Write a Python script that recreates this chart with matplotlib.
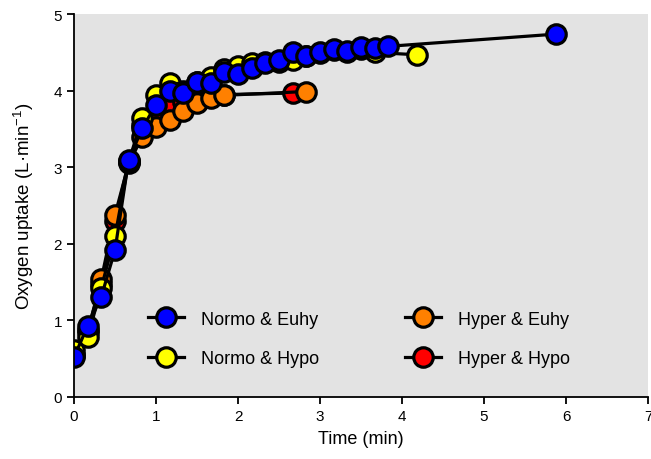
import matplotlib
matplotlib.use("Agg")
import matplotlib.pyplot as plt

plt.rcParams['font.family'] = ['Liberation Sans', 'DejaVu Sans']
plt.rcParams['mathtext.fontset'] = 'custom'
plt.rcParams['mathtext.rm'] = 'Liberation Sans'
plt.rcParams['mathtext.default'] = 'rm'

# Normo & Euhy
t_ne = [0, 0.167, 0.333, 0.5, 0.667, 0.833, 1.0, 1.167, 1.333, 1.5, 1.667, 1.833,
        2.0, 2.167, 2.333, 2.5, 2.667, 2.833, 3.0, 3.167, 3.333, 3.5, 3.667, 3.833, 5.88]
v_ne = [0.52, 0.93, 1.31, 1.92, 3.10, 3.51, 3.82, 4.00, 3.97, 4.12, 4.10, 4.25,
        4.22, 4.30, 4.36, 4.40, 4.50, 4.46, 4.50, 4.55, 4.52, 4.57, 4.56, 4.58, 4.74]

# Normo & Hypo
t_nh = [0, 0.167, 0.333, 0.5, 0.667, 0.833, 1.0, 1.167, 1.333, 1.5, 1.667, 1.833,
        2.0, 2.167, 2.333, 2.5, 2.667, 2.833, 3.0, 3.167, 3.333, 3.5, 3.667, 4.18]
v_nh = [0.62, 0.78, 1.43, 2.10, 3.07, 3.65, 3.95, 4.10, 4.00, 4.12, 4.18, 4.28,
        4.32, 4.36, 4.38, 4.38, 4.40, 4.45, 4.49, 4.53, 4.51, 4.55, 4.50, 4.47]

# Hyper & Euhy
t_he = [0, 0.167, 0.333, 0.5, 0.667, 0.833, 1.0, 1.167, 1.333, 1.5, 1.667, 1.833, 2.83]
v_he = [0.55, 0.85, 1.54, 2.38, 3.05, 3.40, 3.53, 3.62, 3.74, 3.84, 3.90, 3.94, 3.99]

# Hyper & Hypo
t_hh = [0, 0.167, 0.333, 0.5, 0.667, 0.833, 1.0, 1.167, 1.333, 1.5, 1.667, 1.833, 2.67]
v_hh = [0.55, 0.88, 1.48, 2.30, 3.08, 3.55, 3.70, 3.80, 3.85, 3.90, 3.92, 3.95, 3.97]

fig = plt.figure(figsize=(6.51, 4.6), dpi=100)
ax = fig.add_axes([0.1137, 0.1348, 0.8817, 0.8322])
ax.set_facecolor('#e3e3e3')

style = dict(color='black', lw=2.3, marker='o', ms=14, mec='black', mew=2.3)
h_hh, = ax.plot(t_hh, v_hh, mfc='#ff0000', label='Hyper & Hypo', **style)
h_he, = ax.plot(t_he, v_he, mfc='#ff8000', label='Hyper & Euhy', **style)
h_nh, = ax.plot(t_nh, v_nh, mfc='#ffff00', label='Normo & Hypo', **style)
h_ne, = ax.plot(t_ne, v_ne, mfc='#0000ff', label='Normo & Euhy', **style)

ax.set_xlim(0, 7)
ax.set_ylim(0, 5)
ax.set_xticks(range(0, 8))
ax.set_yticks(range(0, 6))
for s in ['top', 'right']:
    ax.spines[s].set_visible(False)
for s in ['left', 'bottom']:
    ax.spines[s].set_linewidth(1.3)
ax.tick_params(direction='out', length=5, width=1.3, labelsize=11)

ax.set_xlabel('Time (min)', fontsize=13, labelpad=5)
ax.set_ylabel('Oxygen uptake (L·min$^{-1}$)', fontsize=13.5, labelpad=13)

ax.legend(handles=[h_ne, h_nh, h_he, h_hh], ncol=2, frameon=False,
          loc='upper left', bbox_to_anchor=(0.1, 0.268), fontsize=13,
          handlelength=2.0, labelspacing=1.25, columnspacing=4.75, handletextpad=0.95)

fig.savefig('out.png', dpi=100)
